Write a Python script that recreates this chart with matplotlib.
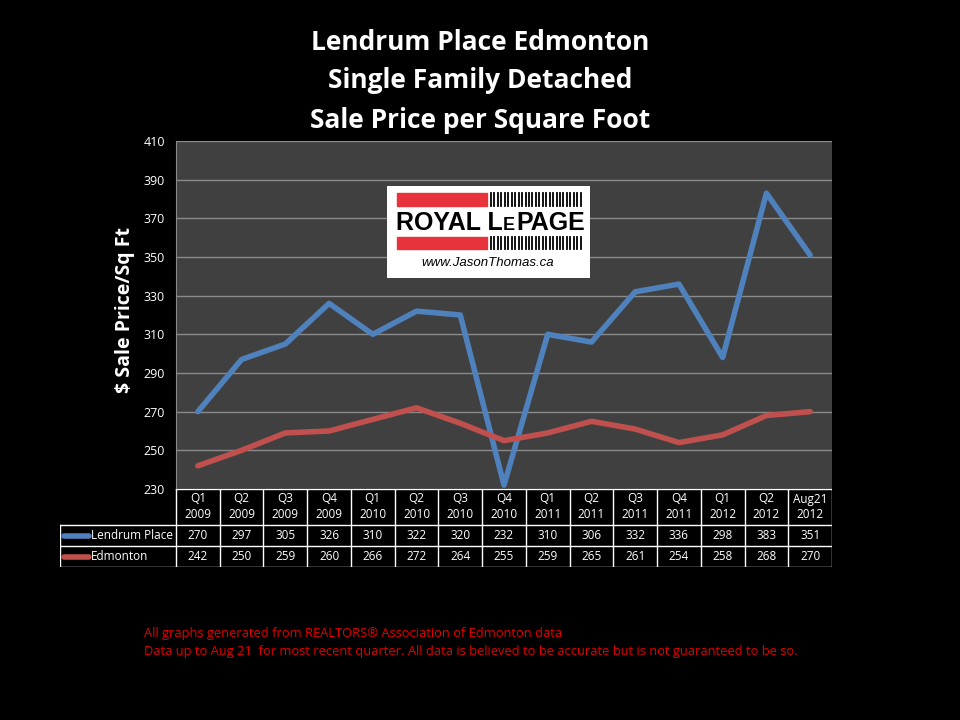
import matplotlib.pyplot as plt
from matplotlib.patches import Rectangle

# --- data --------------------------------------------------------------------
quarters = ["Q1\n2009", "Q2\n2009", "Q3\n2009", "Q4\n2009",
            "Q1\n2010", "Q2\n2010", "Q3\n2010", "Q4\n2010",
            "Q1\n2011", "Q2\n2011", "Q3\n2011", "Q4\n2011",
            "Q1\n2012", "Q2\n2012", "Aug21\n2012"]
lendrum = [270, 297, 305, 326, 310, 322, 320, 232, 310, 306, 332, 336, 298, 383, 351]
edmonton = [242, 250, 259, 260, 266, 272, 264, 255, 259, 265, 261, 254, 258, 268, 270]
series_names = ["Lendrum Place", "Edmonton"]
y_ticks = list(range(230, 411, 20))

BLUE = "#4f81bd"
RED = "#c0504d"
W, H = 960, 720

plt.rcParams["font.family"] = ["Open Sans", "DejaVu Sans"]

fig = plt.figure(figsize=(9.6, 7.2), dpi=100, facecolor="black")


def px(x0, y0, x1, y1):
    """Pixel box (top-left origin) -> figure fraction rect."""
    return [x0 / W, 1 - y1 / H, (x1 - x0) / W, (y1 - y0) / H]


# --- main chart --------------------------------------------------------------
ax = fig.add_axes(px(176, 141, 832, 489))
ax.set_facecolor("#404040")
n = len(quarters)
xs = range(n)
ax.plot(xs, lendrum, color=BLUE, lw=4, solid_capstyle="round", zorder=3)
ax.plot(xs, edmonton, color=RED, lw=4, solid_capstyle="round", zorder=3)
ax.set_xlim(-0.5, n - 0.5)
ax.set_ylim(230, 410)
ax.set_yticks(y_ticks)
ax.yaxis.grid(True, color="#8a8a8a", lw=1)
ax.set_axisbelow(True)
ax.set_xticks([])
ax.tick_params(axis="y", colors="white", labelsize=9, length=0, pad=8)
for s in ax.spines.values():
    s.set_visible(False)
ax.spines["left"].set_visible(True)
ax.spines["left"].set_color("#8a8a8a")

fig.text(125 / W, 1 - 310 / H, "$ Sale Price/Sq Ft", color="white",
         fontsize=14, fontweight="bold", rotation=90, ha="center", va="center")

# --- title -------------------------------------------------------------------
for i, line in enumerate(["Lendrum Place Edmonton", "Single Family Detached",
                          "Sale Price per Square Foot"]):
    fig.text(480 / W, 1 - (42 + i * 39) / H, line, color="white",
             fontsize=19, fontweight="bold", ha="center", va="center")

# --- data table --------------------------------------------------------------
tab = fig.add_axes(px(60, 489, 832, 567))
tab.set_xlim(60, 832)
tab.set_ylim(567, 489)
tab.axis("off")
col_w = (832 - 176) / n
rows = [(489, 525), (525, 546), (546, 567)]
for i in range(n + 1):
    x = 176 + i * col_w
    tab.plot([x, x], [489, 567], color="white", lw=1)
tab.plot([60, 60], [525, 567], color="white", lw=1)
tab.plot([176, 832], [489, 489], color="white", lw=1)
for y in (525, 546, 567):
    tab.plot([60, 832], [y, y], color="white", lw=1)
for i, q in enumerate(quarters):
    cx = 176 + (i + 0.5) * col_w
    tab.text(cx, 507, q, color="white", fontsize=8.5, ha="center", va="center",
             linespacing=1.3)
    tab.text(cx, 535.5, str(lendrum[i]), color="white", fontsize=8.5,
             ha="center", va="center")
    tab.text(cx, 556.5, str(edmonton[i]), color="white", fontsize=8.5,
             ha="center", va="center")
for (y0, y1), name, c in zip(rows[1:], series_names, [BLUE, RED]):
    yc = (y0 + y1) / 2
    tab.plot([64, 89], [yc, yc], color=c, lw=4, solid_capstyle="round")
    tab.text(91, yc, name, color="white", fontsize=8.5, ha="left", va="center")

# --- logo --------------------------------------------------------------------
logo = fig.add_axes(px(387, 186, 590, 278))
logo.set_xlim(0, 203)
logo.set_ylim(92, 0)
logo.axis("off")
logo.add_patch(Rectangle((0, 0), 203, 92, color="white"))
logo.add_patch(Rectangle((10, 7), 90, 13, color="#e8333c"))
logo.add_patch(Rectangle((10, 51), 90, 12, color="#e8333c"))
for k in range(27):
    bx = 104 + k * 3.45
    logo.plot([bx, bx], [7, 20], color="black", lw=1.3)
    logo.plot([bx, bx], [51, 63], color="black", lw=1.3)

# "ROYAL LePAGE" with a small-cap E: place each piece after the previous one
renderer = fig.canvas.get_renderer()
inv = logo.transData.inverted()
x_cursor = 9
for piece, size in [("ROYAL L", 18), ("E", 13), ("PAGE", 18)]:
    t = logo.text(x_cursor, 43.5, piece, color="black", fontsize=size,
                  fontweight="bold", ha="left", va="baseline",
                  family="Liberation Sans")
    bb = t.get_window_extent(renderer)
    x_cursor = inv.transform((bb.x1, bb.y0))[0] + 0.5
logo.text(101, 77, "www.JasonThomas.ca", color="black", fontsize=9.5,
          style="italic", ha="center", va="center", family="Liberation Sans")

# --- footnote ----------------------------------------------------------------
fig.text(144 / W, 1 - 634 / H,
         "All graphs generated from REALTORS® Association of Edmonton data",
         color="#e00000", fontsize=9.3, ha="left", va="center")
fig.text(144 / W, 1 - 651 / H,
         "Data up to Aug 21  for most recent quarter. All data is believed to be "
         "accurate but is not guaranteed to be so.",
         color="#e00000", fontsize=9.3, ha="left", va="center")

fig.savefig("out.png", dpi=100, facecolor="black")
